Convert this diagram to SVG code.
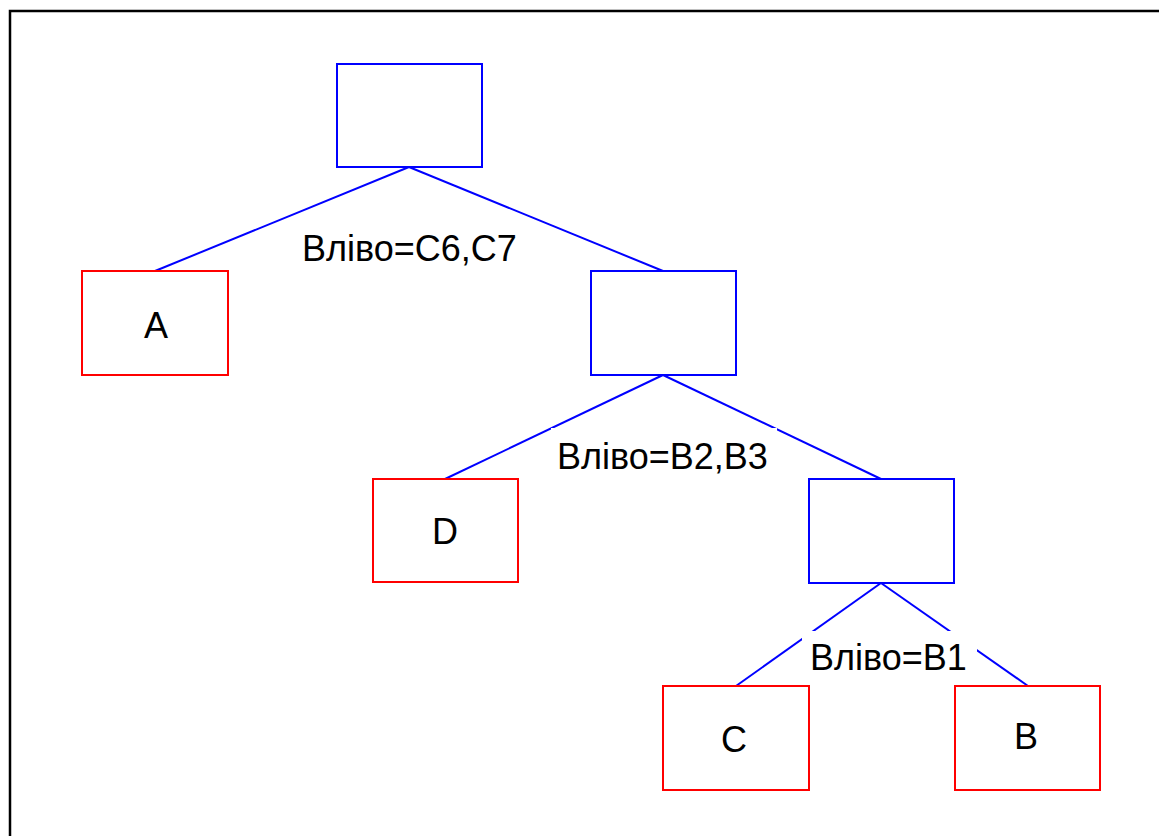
<svg xmlns="http://www.w3.org/2000/svg" width="1159" height="836" viewBox="0 0 1159 836">
  <style>
    .frame { fill: #ffffff; stroke: #000000; stroke-width: 2.5; }
    .inner { fill: #ffffff; stroke: #0000ff; stroke-width: 2; }
    .leaf { fill: #ffffff; stroke: #ff0000; stroke-width: 2; }
    .edge { stroke: #0000ff; stroke-width: 2; fill: none; }
    .mask { fill: #ffffff; stroke: none; }
    text { font-family: "Liberation Sans", Arial, sans-serif; font-size: 36px; fill: #000000; }
    .mid { text-anchor: middle; }
  </style>

  <!-- outer frame -->
  <rect class="frame" x="10" y="11" width="1160" height="840"/>

  <!-- connectors -->
  <g id="connectors">
    <line class="edge" x1="409" y1="167" x2="155" y2="271"/>
    <line class="edge" x1="409" y1="167" x2="663" y2="271"/>
    <line class="edge" x1="663" y1="375" x2="445" y2="479"/>
    <line class="edge" x1="663" y1="375" x2="881" y2="479"/>
    <line class="edge" x1="881" y1="583" x2="736" y2="686"/>
    <line class="edge" x1="881" y1="583" x2="1028" y2="686"/>
  </g>

  <!-- split labels with white backgrounds -->
  <g id="label-root">
    <rect class="mask" x="300" y="226" width="222" height="44"/>
    <text x="302" y="261">Вліво=C6,C7</text>
  </g>
  <g id="label-mid">
    <rect class="mask" x="551" y="428" width="226" height="46"/>
    <text x="557" y="469">Вліво=B2,B3</text>
  </g>
  <g id="label-low">
    <rect class="mask" x="802" y="631" width="175" height="46"/>
    <text x="810" y="670">Вліво=B1</text>
  </g>

  <!-- decision nodes -->
  <g id="node-root">
    <rect class="inner" x="337" y="64" width="145" height="103"/>
  </g>
  <g id="node-mid">
    <rect class="inner" x="591" y="271" width="145" height="104"/>
  </g>
  <g id="node-low">
    <rect class="inner" x="809" y="479" width="145" height="104"/>
  </g>

  <!-- leaves -->
  <g id="leaf-a">
    <rect class="leaf" x="82" y="271" width="146" height="104"/>
    <text class="mid" x="156" y="338">A</text>
  </g>
  <g id="leaf-d">
    <rect class="leaf" x="373" y="479" width="145" height="103"/>
    <text class="mid" x="445" y="544">D</text>
  </g>
  <g id="leaf-c">
    <rect class="leaf" x="663" y="686" width="146" height="104"/>
    <text class="mid" x="734" y="752">C</text>
  </g>
  <g id="leaf-b">
    <rect class="leaf" x="955" y="686" width="145" height="104"/>
    <text class="mid" x="1026" y="749">B</text>
  </g>
</svg>
